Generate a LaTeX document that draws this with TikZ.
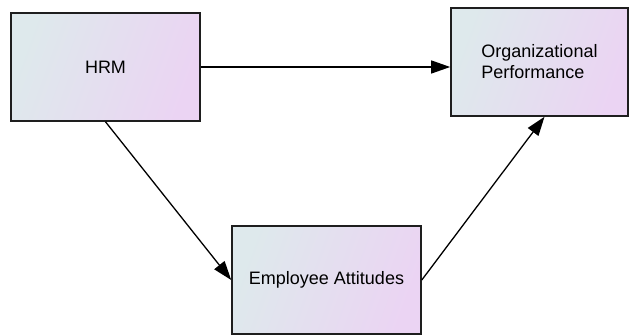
\documentclass[tikz,border=0pt]{standalone}
\usepackage{fontspec}
\setmainfont{Liberation Sans}
\usetikzlibrary{arrows.meta}

\definecolor{boxleft}{RGB}{222,233,236}
\definecolor{boxright}{RGB}{235,212,243}
\definecolor{boxline}{RGB}{30,30,30}

\tikzset{
  factor/.style={draw=boxline, line width=1.6pt, left color=boxleft, right color=boxright,
    shading angle=70, minimum width=#1, minimum height=108pt, inner sep=0pt,
    font=\fontsize{18}{21}\selectfont},
  factor/.default=189pt
}

\begin{document}
\begin{tikzpicture}[x=1pt,y=-1pt,->,>={Triangle[length=19pt,width=13pt]},line width=1.3pt]
    \useasboundingbox (0,0) rectangle (630,336);

    % constructs
    \node[factor]                    (HRM) at (105.5,67)  {HRM};
    \node[factor=177pt, align=left]  (OP)  at (539.5,62)  {Organizational\\Performance};
    \node[factor]                    (EA)  at (326.5,280) {Employee Attitudes};

    % paths
    \draw (HRM.east) -- (HRM.east -| OP.west);
    \draw (HRM.south) -- (EA.west);
    \draw (EA.east) -- ([xshift=5pt]OP.south);

\end{tikzpicture}
\end{document}
